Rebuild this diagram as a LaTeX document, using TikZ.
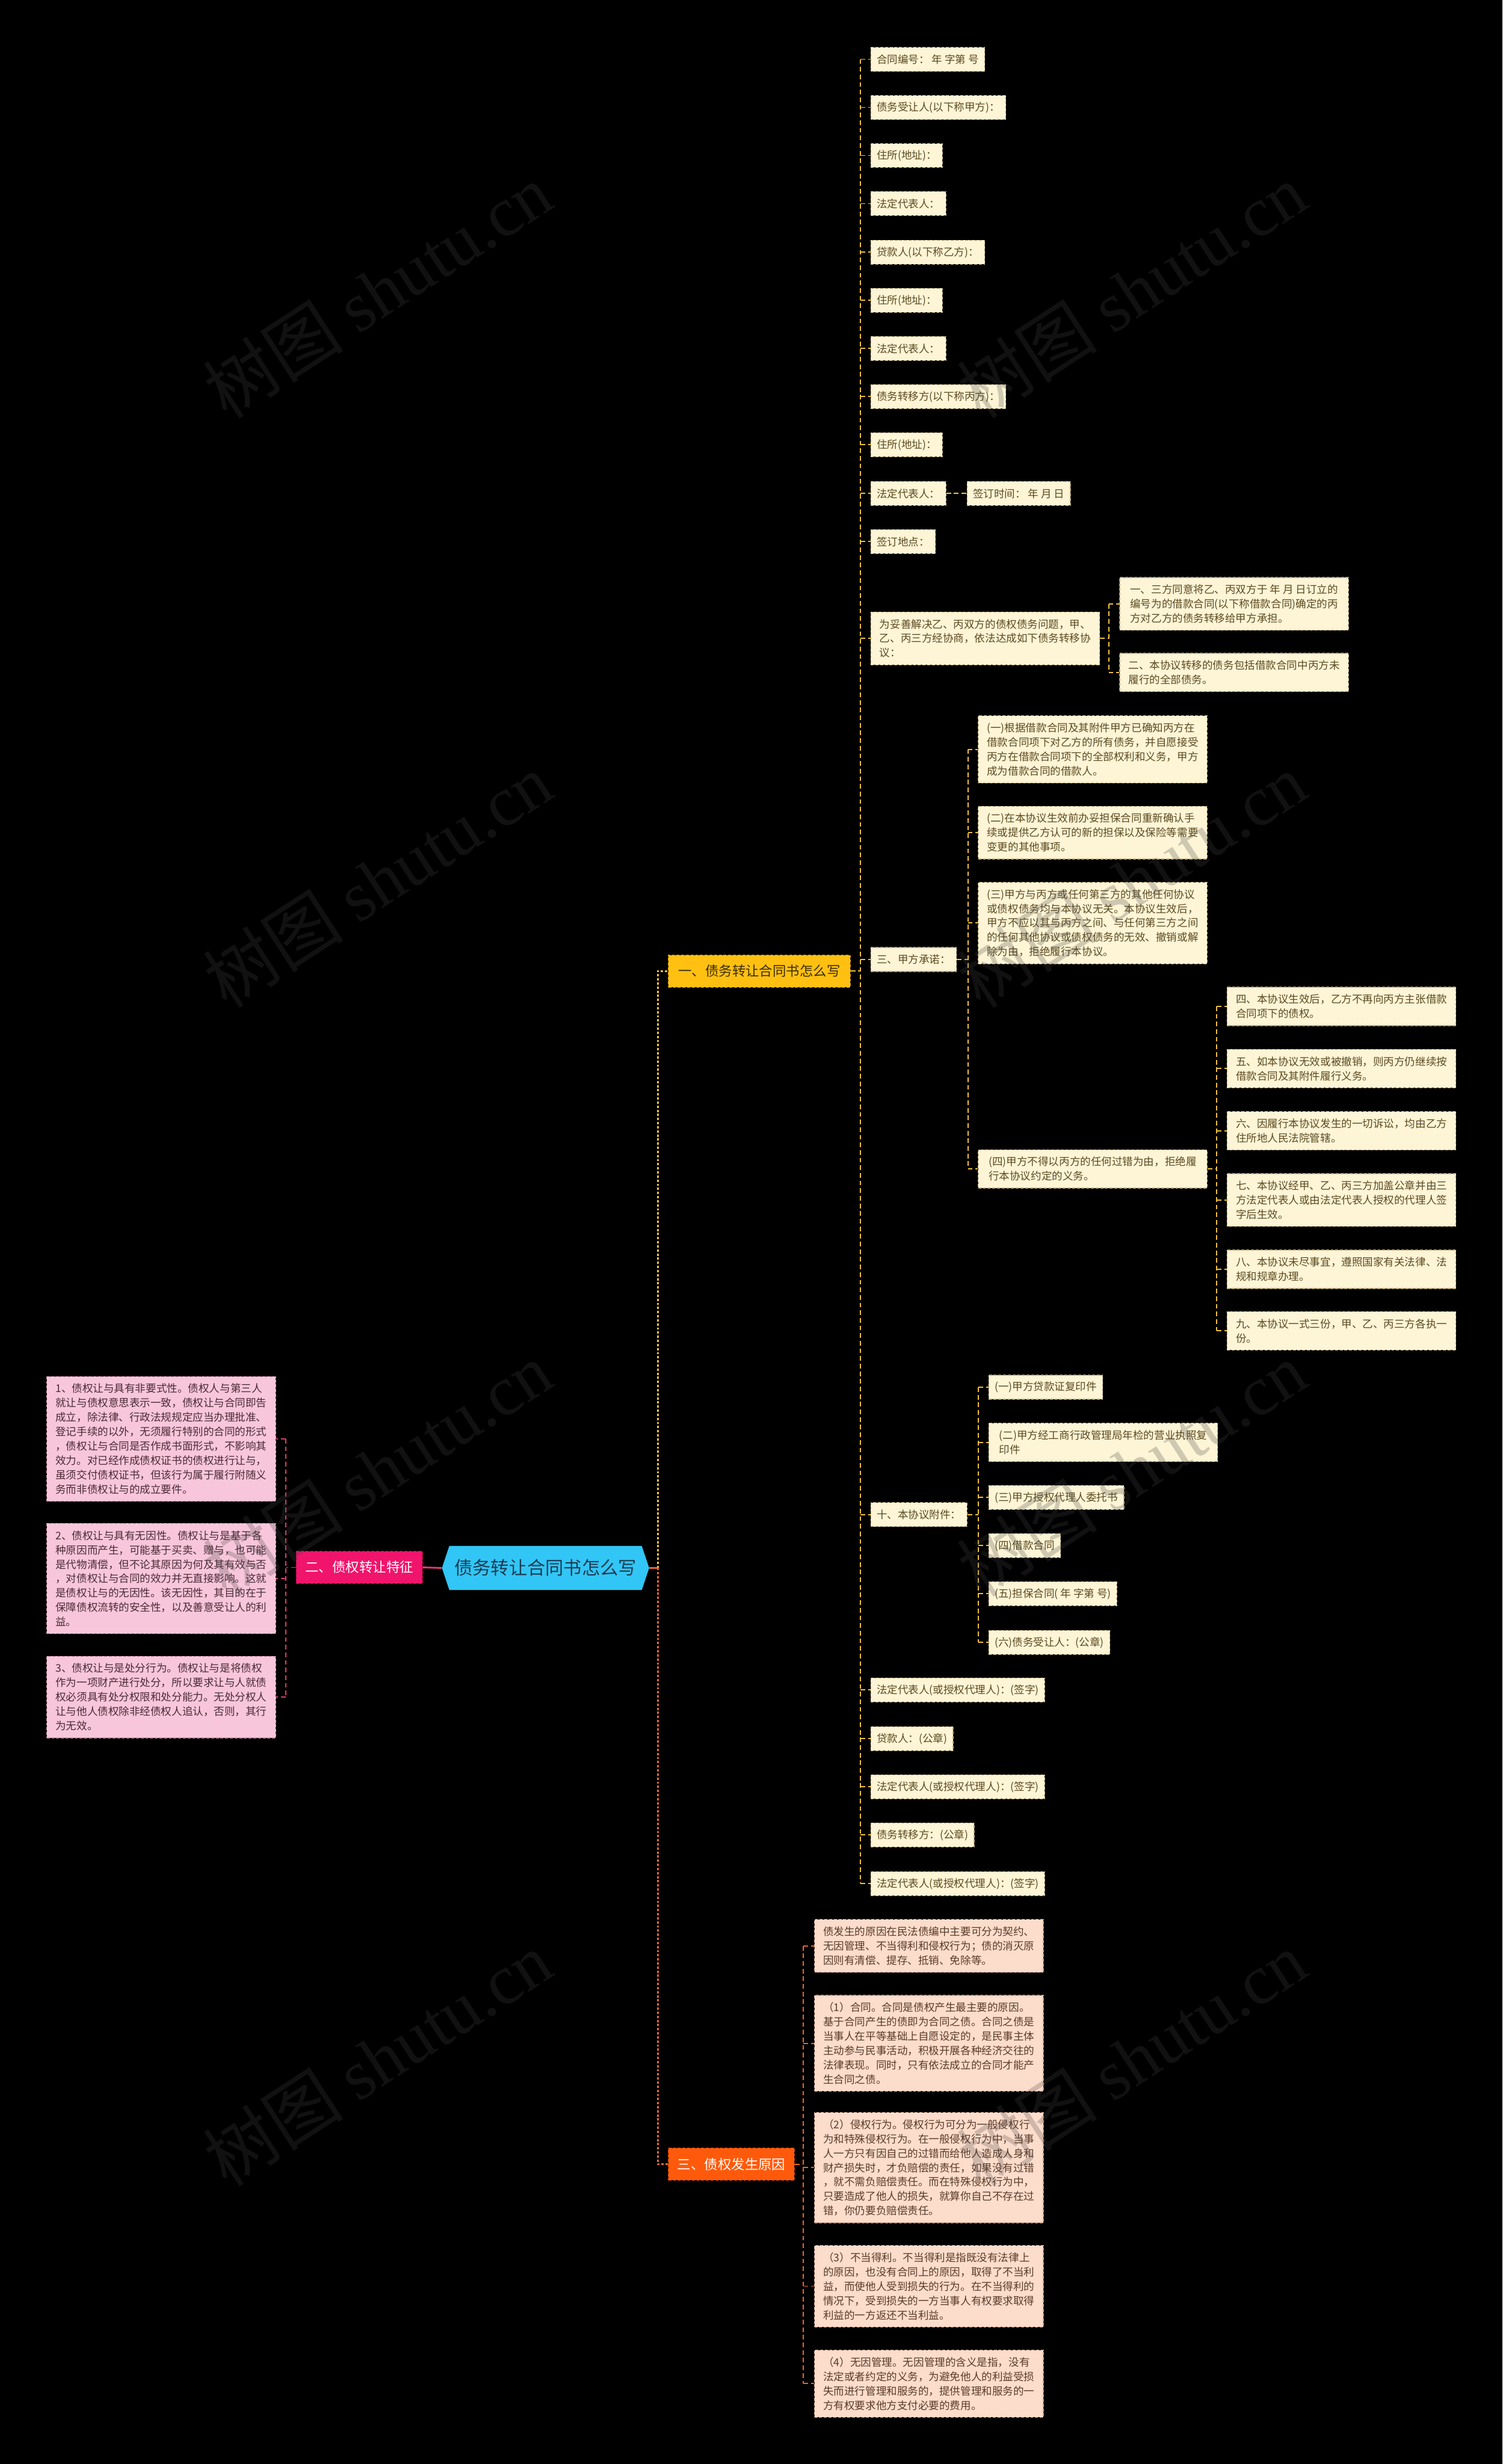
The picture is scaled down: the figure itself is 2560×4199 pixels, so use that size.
\documentclass[tikz,border=0pt]{standalone}
\usepackage{fontspec}
\setmainfont{Noto Sans CJK SC}
\newfontfamily\wmlatin{Liberation Serif}
\usetikzlibrary{shapes.symbols}
\definecolor{cream}{HTML}{FEF4D6}
\definecolor{creamline}{HTML}{B9A877}
\definecolor{creamtext}{HTML}{5A4A20}
\definecolor{ylw}{HTML}{F2C13A}
\definecolor{gold}{HTML}{FFC012}
\definecolor{goldline}{HTML}{C99000}
\definecolor{goldtext}{HTML}{3A2C05}
\definecolor{pinkb}{HTML}{F0146C}
\definecolor{pinkbline}{HTML}{B80A4E}
\definecolor{pinkl}{HTML}{F8C6DA}
\definecolor{pinklline}{HTML}{C98AA3}
\definecolor{pinkline}{HTML}{E23A75}
\definecolor{pinktext}{HTML}{4A2A36}
\definecolor{orgb}{HTML}{FF5A0C}
\definecolor{orgbline}{HTML}{C04000}
\definecolor{peach}{HTML}{FCDCCB}
\definecolor{peachline}{HTML}{C9A08A}
\definecolor{orgline}{HTML}{E8662A}
\definecolor{peachtext}{HTML}{5A3A28}
\definecolor{sky}{HTML}{31C6F5}
\definecolor{skytext}{HTML}{1D3A52}
\definecolor{wm}{HTML}{464646}
\tikzset{
  box/.style={draw, dash pattern=on 5pt off 3pt, line width=1.3pt, anchor=west,
    inner xsep=10pt, inner ysep=0pt, minimum height=41pt, align=left,
    font=\fontsize{18pt}{24.5pt}\selectfont},
  lf/.style={box, fill=cream, draw=creamline, text=creamtext},
  pk/.style={box, fill=pinkl, draw=pinklline, text=pinktext, minimum width=390pt},
  pc/.style={box, fill=peach, draw=peachline, text=peachtext, minimum width=390pt},
  wide/.style={minimum width=390pt},
  nl2/.style={minimum height=65.5pt},
  nl3/.style={minimum height=90pt},
  nl4/.style={minimum height=114.5pt},
  nl5/.style={minimum height=139pt},
  nl6/.style={minimum height=163.5pt},
  nl7/.style={minimum height=188pt},
  nl8/.style={minimum height=212.5pt},
  brnode/.style={draw, dash pattern=on 5pt off 3pt, line width=1.3pt, anchor=west,
    inner xsep=6pt, inner ysep=0pt, minimum height=55pt,
    font=\fontsize{23pt}{28pt}\selectfont},
  ycon/.style={draw=ylw, line width=2pt, dash pattern=on 8pt off 5pt},
  pcon/.style={draw=pinkline, line width=2pt, dash pattern=on 8pt off 5pt},
  ocon/.style={draw=orgline, line width=2pt, dash pattern=on 8pt off 5pt},
  wmk/.style={text=wm, opacity=0.25, rotate=33, font=\fontsize{120pt}{120pt}\selectfont}
}
\begin{document}
\begin{tikzpicture}[x=1pt,y=-1pt]
\fill[black] (0,0) rectangle (2560,4199);
\useasboundingbox (0,0) rectangle (2560,4199);

% central node and branches
\node[signal, signal to=west and east, signal pointer angle=143, fill=sky,
  minimum width=353pt, minimum height=75pt, inner sep=0pt, text=skytext,
  font=\fontsize{31pt}{36pt}\selectfont] (c) at (929.5,2672) {债务转让合同书怎么写};
\node[brnode, fill=gold, draw=goldline, text=goldtext, minimum width=310pt] (b1) at (1138,1655) {一、债务转让合同书怎么写};
\node[brnode, fill=pinkb, draw=pinkbline, text=white, minimum width=215pt] (b2) at (504,2671) {二、债权转让特征};
\node[brnode, fill=orgb, draw=orgbline, text=white, minimum width=215pt] (b3) at (1138,3688) {三、债权发生原因};

% branch one children
\node[lf] (a1) at (1483,101) {合同编号：~年 字第 号};
\node[lf] (a2) at (1483,183) {债务受让人(以下称甲方)：};
\node[lf] (a3) at (1483,265) {住所(地址)：};
\node[lf] (a4) at (1483,347) {法定代表人：};
\node[lf] (a5) at (1483,430) {贷款人(以下称乙方)：};
\node[lf] (a6) at (1483,512) {住所(地址)：};
\node[lf] (a7) at (1483,594) {法定代表人：};
\node[lf] (a8) at (1483,676) {债务转移方(以下称丙方)：};
\node[lf] (a9) at (1483,758) {住所(地址)：};
\node[lf] (a10) at (1483,841) {法定代表人：};
\node[lf] (a11) at (1483,923) {签订地点：};
\node[lf, wide, nl3] (a12) at (1483,1088) {为妥善解决乙、丙双方的债权债务问题，甲、\\乙、丙三方经协商，依法达成如下债务转移协\\议：};
\node[lf] (a13) at (1483,1635) {三、甲方承诺：};
\node[lf] (a14) at (1483,2581) {十、本协议附件：};
\node[lf] (a15) at (1483,2880) {法定代表人(或授权代理人)：(签字)};
\node[lf] (a16) at (1483,2963) {贷款人：(公章)};
\node[lf] (a17) at (1483,3045) {法定代表人(或授权代理人)：(签字)};
\node[lf] (a18) at (1483,3127) {债务转移方：(公章)};
\node[lf] (a19) at (1483,3210) {法定代表人(或授权代理人)：(签字)};

\node[lf] (s1) at (1647,841) {签订时间：~年 月 日};

\node[lf, wide, nl3] (p1) at (1907,1029) {一、三方同意将乙、丙双方于 年 月 日订立的\\编号为的借款合同(以下称借款合同)确定的丙\\方对乙方的债务转移给甲方承担。};
\node[lf, wide, nl2] (p2) at (1907,1146) {二、本协议转移的债务包括借款合同中丙方未\\履行的全部债务。};

\node[lf, wide, nl4] (q1) at (1666,1277) {(一)根据借款合同及其附件甲方已确知丙方在\\借款合同项下对乙方的所有债务，并自愿接受\\丙方在借款合同项下的全部权利和义务，甲方\\成为借款合同的借款人。};
\node[lf, wide, nl3] (q2) at (1666,1419) {(二)在本协议生效前办妥担保合同重新确认手\\续或提供乙方认可的新的担保以及保险等需要\\变更的其他事项。};
\node[lf, wide, nl5] (q3) at (1666,1573) {(三)甲方与丙方或任何第三方的其他任何协议\\或债权债务均与本协议无关。本协议生效后，\\甲方不应以其与丙方之间、与任何第三方之间\\的任何其他协议或债权债务的无效、撤销或解\\除为由，拒绝履行本协议。};
\node[lf, wide, nl2] (q4) at (1666,1992) {(四)甲方不得以丙方的任何过错为由，拒绝履\\行本协议约定的义务。};

\node[lf, wide, nl2] (r1) at (2090,1715) {四、本协议生效后，乙方不再向丙方主张借款\\合同项下的债权。};
\node[lf, wide, nl2] (r2) at (2090,1821) {五、如本协议无效或被撤销，则丙方仍继续按\\借款合同及其附件履行义务。};
\node[lf, wide, nl2] (r3) at (2090,1927) {六、因履行本协议发生的一切诉讼，均由乙方\\住所地人民法院管辖。};
\node[lf, wide, nl3] (r4) at (2090,2045) {七、本协议经甲、乙、丙三方加盖公章并由三\\方法定代表人或由法定代表人授权的代理人签\\字后生效。};
\node[lf, wide, nl2] (r5) at (2090,2163) {八、本协议未尽事宜，遵照国家有关法律、法\\规和规章办理。};
\node[lf, wide, nl2] (r6) at (2090,2268) {九、本协议一式三份，甲、乙、丙三方各执一\\份。};

\node[lf] (t1) at (1684,2364) {(一)甲方贷款证复印件};
\node[lf, wide, nl2] (t2) at (1684,2458) {(二)甲方经工商行政管理局年检的营业执照复\\印件};
\node[lf] (t3) at (1684,2552) {(三)甲方授权代理人委托书};
\node[lf] (t4) at (1684,2634) {(四)借款合同};
\node[lf] (t5) at (1684,2716) {(五)担保合同( 年 字第 号)};
\node[lf] (t6) at (1684,2799) {(六)债务受让人：(公章)};

% branch two children
\node[pk, nl8] (g1) at (79,2452) {1、债权让与具有非要式性。债权人与第三人\\就让与债权意思表示一致，债权让与合同即告\\成立，除法律、行政法规规定应当办理批准、\\登记手续的以外，无须履行特别的合同的形式\\，债权让与合同是否作成书面形式，不影响其\\效力。对已经作成债权证书的债权进行让与，\\虽须交付债权证书，但该行为属于履行附随义\\务而非债权让与的成立要件。};
\node[pk, nl7] (g2) at (79,2690) {2、债权让与具有无因性。债权让与是基于各\\种原因而产生，可能基于买卖、赠与，也可能\\是代物清偿，但不论其原因为何及其有效与否\\，对债权让与合同的效力并无直接影响。这就\\是债权让与的无因性。该无因性，其目的在于\\保障债权流转的安全性，以及善意受让人的利\\益。};
\node[pk, nl5] (g3) at (79,2892) {3、债权让与是处分行为。债权让与是将债权\\作为一项财产进行处分，所以要求让与人就债\\权必须具有处分权限和处分能力。无处分权人\\让与他人债权除非经债权人追认，否则，其行\\为无效。};

% branch three children
\node[pc, nl3] (h1) at (1387,3316) {债发生的原因在民法债编中主要可分为契约、\\无因管理、不当得利和侵权行为；债的消灭原\\因则有清偿、提存、抵销、免除等。};
\node[pc, nl6] (h2) at (1387,3482) {（1）合同。合同是债权产生最主要的原因。\\基于合同产生的债即为合同之债。合同之债是\\当事人在平等基础上自愿设定的，是民事主体\\主动参与民事活动，积极开展各种经济交往的\\法律表现。同时，只有依法成立的合同才能产\\生合同之债。};
\node[pc, nl7] (h3) at (1387,3694) {（2）侵权行为。侵权行为可分为一般侵权行\\为和特殊侵权行为。在一般侵权行为中，当事\\人一方只有因自己的过错而给他人造成人身和\\财产损失时，才负赔偿的责任，如果没有过错\\，就不需负赔偿责任。而在特殊侵权行为中，\\只要造成了他人的损失，就算你自己不存在过\\错，你仍要负赔偿责任。};
\node[pc, nl5] (h4) at (1387,3896) {（3）不当得利。不当得利是指既没有法律上\\的原因，也没有合同上的原因，取得了不当利\\益，而使他人受到损失的行为。在不当得利的\\情况下，受到损失的一方当事人有权要求取得\\利益的一方返还不当利益。};
\node[pc, nl4] (h5) at (1387,4062) {（4）无因管理。无因管理的含义是指，没有\\法定或者约定的义务，为避免他人的利益受损\\失而进行管理和服务的，提供管理和服务的一\\方有权要求他方支付必要的费用。};

% main connectors
\coordinate (m) at (1121,2672);
\draw[orgline, line width=3pt] (c.east) -- (m);
\draw[draw=ylw, line width=3pt, dash pattern=on 4pt off 3pt] (m) |- (b1.west);
\draw[draw=orgline, line width=3pt, dash pattern=on 4pt off 3pt] (m) |- (b3.west);
\draw[pinkline, line width=3pt] (c.west) -- (b2.east);

% bracket coordinates
\coordinate (k1) at (1466,0);
\coordinate (k2) at (1889,0);
\coordinate (k3) at (1649,0);
\coordinate (k4) at (2073,0);
\coordinate (k5) at (1667,0);
\coordinate (k6) at (487,0);
\coordinate (k7) at (1369,0);

% branch one
\draw[ycon] (b1.east) -- (b1.east -| k1);
\draw[ycon] (k1 |- a1.west) -- (k1 |- a19.west);
\foreach \i in {1,...,19} \draw[ycon] (k1 |- a\i.west) -- (a\i.west);
\draw[ycon] (a10.east) -- (s1.west);
\draw[ycon] (a12.east) -- (a12.east -| k2);
\draw[ycon] (k2 |- p1.west) -- (k2 |- p2.west);
\foreach \i in {1,2} \draw[ycon] (k2 |- p\i.west) -- (p\i.west);
\draw[ycon] (a13.east) -- (a13.east -| k3);
\draw[ycon] (k3 |- q1.west) -- (k3 |- q4.west);
\foreach \i in {1,...,4} \draw[ycon] (k3 |- q\i.west) -- (q\i.west);
\draw[ycon] (q4.east) -- (q4.east -| k4);
\draw[ycon] (k4 |- r1.west) -- (k4 |- r6.west);
\foreach \i in {1,...,6} \draw[ycon] (k4 |- r\i.west) -- (r\i.west);
\draw[ycon] (a14.east) -- (a14.east -| k5);
\draw[ycon] (k5 |- t1.west) -- (k5 |- t6.west);
\foreach \i in {1,...,6} \draw[ycon] (k5 |- t\i.west) -- (t\i.west);

% branch two
\draw[pcon] (b2.west) -- (b2.west -| k6);
\draw[pcon] (k6 |- g1.east) -- (k6 |- g3.east);
\foreach \i in {1,2,3} \draw[pcon] (k6 |- g\i.east) -- (g\i.east);

% branch three
\draw[ocon] (b3.east) -- (b3.east -| k7);
\draw[ocon] (k7 |- h1.west) -- (k7 |- h5.west);
\foreach \i in {1,...,5} \draw[ocon] (k7 |- h\i.west) -- (h\i.west);

% watermarks
\node[wmk] (w1) at (643,495) {树图 {\wmlatin shutu.cn}};
\node[wmk] (w2) at (1928,495) {树图 {\wmlatin shutu.cn}};
\node[wmk] (w3) at (643,1500) {树图 {\wmlatin shutu.cn}};
\node[wmk] (w4) at (1928,1500) {树图 {\wmlatin shutu.cn}};
\node[wmk] (w5) at (643,2504) {树图 {\wmlatin shutu.cn}};
\node[wmk] (w6) at (1928,2504) {树图 {\wmlatin shutu.cn}};
\node[wmk] (w7) at (643,3508) {树图 {\wmlatin shutu.cn}};
\node[wmk] (w8) at (1928,3508) {树图 {\wmlatin shutu.cn}};
\end{tikzpicture}
\end{document}
